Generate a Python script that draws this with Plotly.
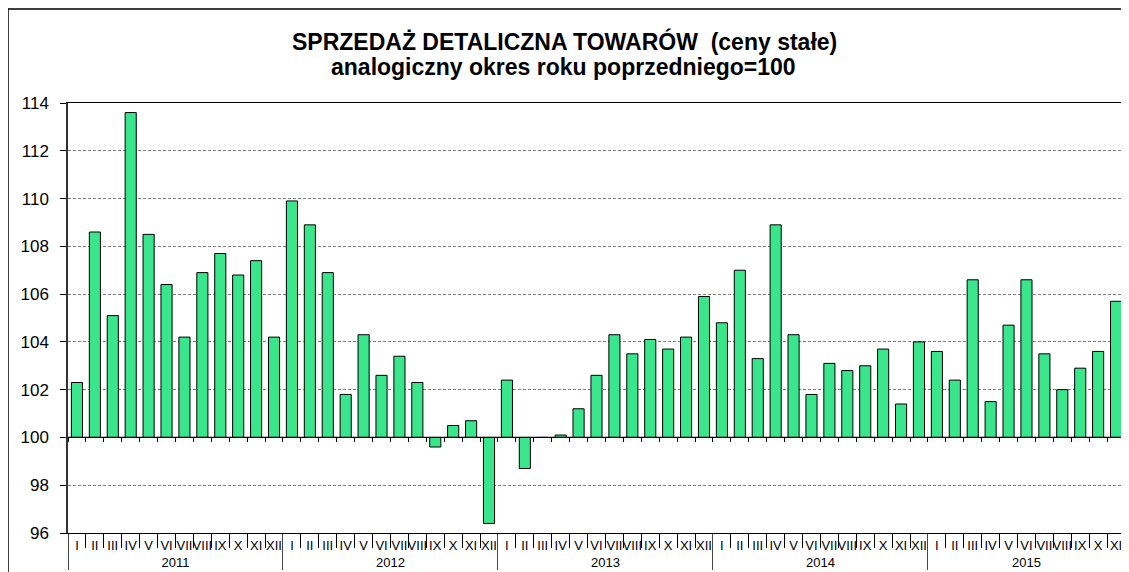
import plotly.graph_objects as go

# ---------------- data ----------------
years = ["2011", "2012", "2013", "2014", "2015"]
months = ["I", "II", "III", "IV", "V", "VI", "VII", "VIII", "IX", "X", "XI", "XII"]

v2011 = [102.3, 108.6, 105.1, 113.6, 108.5, 106.4, 104.2, 106.9, 107.7, 106.8, 107.4, 104.2]
v2012 = [109.9, 108.9, 106.9, 101.8, 104.3, 102.6, 103.4, 102.3, 99.6, 100.5, 100.7, 96.4]
v2013 = [102.4, 98.7, 100.0, 100.1, 101.2, 102.6, 104.3, 103.5, 104.1, 103.7, 104.2, 105.9]
v2014 = [104.8, 107.0, 103.3, 108.9, 104.3, 101.8, 103.1, 102.8, 103.0, 103.7, 101.4, 104.0]
v2015 = [103.6, 102.4, 106.6, 101.5, 104.7, 106.6, 103.5, 102.0, 102.9, 103.6, 105.7]

BASE = 100
Y_MIN, Y_MAX, Y_STEP = 96, 114, 2

series = [v2011, v2012, v2013, v2014, v2015]
year_cat, month_cat, values = [], [], []
for yr, vals in zip(years, series):
    for m, v in zip(months, vals):
        year_cat.append(yr)
        month_cat.append(m)
        values.append(v)
n = len(values)

FONT = "Liberation Sans, Arial, sans-serif"

# page is 1129x572; the html body adds an 8px offset, so the figure is smaller
OFF = 8
PAGE_W, PAGE_H = 1129, 572
W, H = PAGE_W - OFF, PAGE_H - OFF
# plot-area edges in page pixels
P_LEFT, P_RIGHT, P_TOP, P_BOTTOM = 68, 1125, 103, 533
ML, MR = P_LEFT - OFF, PAGE_W - P_RIGHT
MT, MB = P_TOP - OFF, PAGE_H - P_BOTTOM
PW, PH = W - ML - MR, H - MT - MB

def px_x(p):  # page pixel -> paper x
    return (p - P_LEFT) / PW

def px_y(p):  # page pixel -> paper y
    return (P_BOTTOM - p) / PH

fig = go.Figure()
fig.add_trace(go.Bar(
    x=[year_cat, month_cat],
    y=[v - BASE for v in values],
    base=BASE,
    marker=dict(color="#3ae68c", line=dict(color="black", width=1)),
    width=0.62,
    showlegend=False,
))
# reference line at 100 with category ticks (secondary numeric axis)
fig.add_trace(go.Scatter(
    x=[-0.5, n - 0.5], y=[BASE, BASE], xaxis="x2", yaxis="y",
    mode="lines", line=dict(color="black", width=1.3),
    hoverinfo="skip", showlegend=False,
))

fig.update_layout(
    width=W, height=H,
    margin=dict(l=ML, r=MR, t=MT, b=MB, autoexpand=False),
    paper_bgcolor="white", plot_bgcolor="white",
    font=dict(family=FONT, color="black"),
    bargap=0.38,
    xaxis=dict(
        type="multicategory", automargin=False, tickangle=0,
        showline=True, linecolor="black", linewidth=1, mirror=True,
        ticks="outside", ticklen=14, tickcolor="black", tickson="boundaries",
        showdividers=True, dividercolor="#444444", dividerwidth=1,
        tickfont=dict(family=FONT, size=13, color="black"),
        showgrid=False,
    ),
    xaxis2=dict(
        overlaying="x", anchor="free", position=(BASE - Y_MIN) / (Y_MAX - Y_MIN),
        range=[-0.5, n - 0.5], showgrid=False, zeroline=False,
        showticklabels=False, ticks="outside", ticklen=4, tickcolor="black",
        tickvals=[i - 0.5 for i in range(n + 1)], showline=False,
    ),
    yaxis=dict(
        range=[Y_MIN, Y_MAX], dtick=Y_STEP, tick0=Y_MIN, automargin=False,
        showline=True, linecolor="#333333", linewidth=1.5, mirror=True,
        ticks="outside", ticklen=6, tickcolor="black",
        showgrid=True, gridcolor="#808080", gridwidth=1, griddash="3px,2px",
        zeroline=False,
        tickfont=dict(family=FONT, size=17, color="black"),
        ticklabelstandoff=8,
    ),
    annotations=[
        dict(text="<b>SPRZEDAŻ DETALICZNA TOWARÓW  (ceny stałe)</b>",
             xref="paper", yref="paper", x=px_x(564), y=px_y(42),
             xanchor="center", yanchor="middle", showarrow=False,
             font=dict(family=FONT, size=23, color="black")),
        dict(text="<b>analogiczny okres roku poprzedniego=100</b>",
             xref="paper", yref="paper", x=px_x(563), y=px_y(67),
             xanchor="center", yanchor="middle", showarrow=False,
             font=dict(family=FONT, size=23, color="black")),
    ],
    shapes=[dict(
        type="rect", xref="paper", yref="paper",
        x0=px_x(8), x1=px_x(PAGE_W + 20), y0=px_y(PAGE_H + 20), y1=px_y(9),
        line=dict(color="black", width=1.5), fillcolor="rgba(0,0,0,0)", layer="below",
    )],
)

fig.write_html("out.html")
